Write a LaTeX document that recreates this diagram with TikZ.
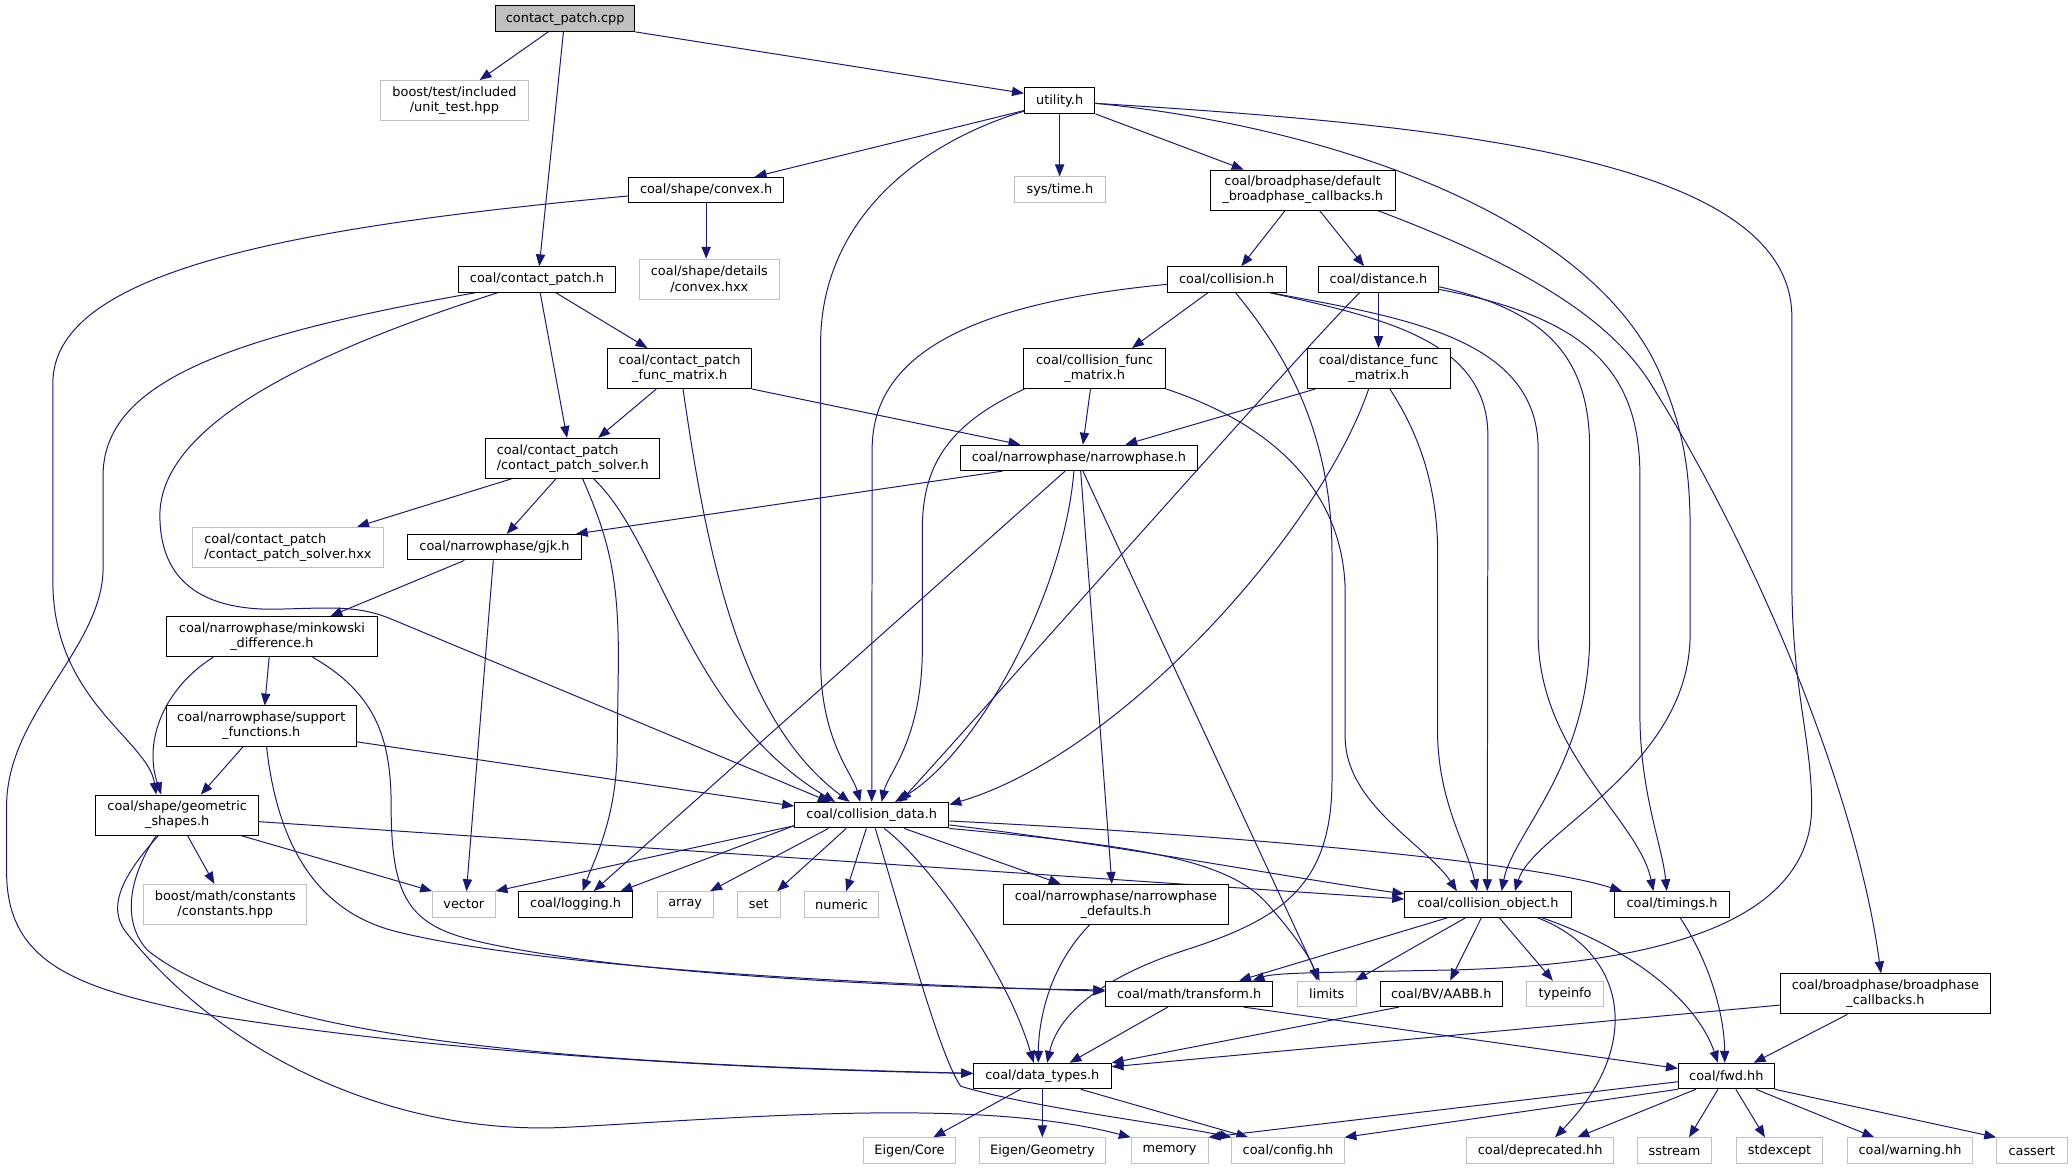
\documentclass[tikz,border=0pt]{standalone}
\usepackage{fontspec}
\setmainfont{DejaVu Sans}
\usetikzlibrary{arrows.meta}
\definecolor{edgec}{HTML}{191970}
\definecolor{graybd}{HTML}{BFBFBF}
\newcommand{\dxfont}{\fontsize{9.75}{11.4}\selectfont}
\pgfdeclarelayer{back}
\pgfdeclarelayer{bg}
\pgfsetlayers{back,bg,main}
\tikzset{
  nd/.style={draw=black, line width=0.75pt, fill=white, inner sep=0pt, font=\dxfont, align=center, minimum height=19.3pt, text=black},
  ndg/.style={nd, draw=graybd},
  tw/.style={minimum height=30.3pt},
  rootnd/.style={nd, fill=graybd},
  edge/.style={draw=edgec, line width=0.75pt, -{Triangle[length=9pt,width=7pt]}},
}
\begin{document}
\begin{tikzpicture}[x=1pt, y=-1pt]
\begin{pgfonlayer}{back}
\fill[white] (0,0) rectangle (1568,884.7);
\end{pgfonlayer}
\useasboundingbox (0,0) rectangle (1568,884.7);
% nodes
\node[rootnd, minimum width=105.4pt] (cpp) at (427.7,14.1) {contact\_patch.cpp};
\node[ndg, tw, minimum width=111.5pt] (ut) at (343.9,76.1) {boost/test/included\\/unit\_test.hpp};
\node[nd, minimum width=53.4pt] (util) at (801.9,76.2) {utility.h};
\node[nd, minimum width=117.4pt] (convex) at (534.4,143.8) {coal/shape/convex.h};
\node[ndg, minimum width=68.6pt] (systime) at (802.1,143.5) {sys/time.h};
\node[nd, tw, minimum width=140.1pt] (dfb) at (985.8,143.8) {coal/broadphase/default\\\_broadphase\_callbacks.h};
\node[ndg, tw, minimum width=105.9pt] (cvx) at (536.8,211.3) {coal/shape/details\\/convex.hxx};
\node[nd, minimum width=118.3pt] (cph) at (406.4,211.5) {coal/contact\_patch.h};
\node[nd, minimum width=89.9pt] (coll) at (928.3,211.5) {coal/collision.h};
\node[nd, minimum width=90.8pt] (dist) at (1043.2,211.5) {coal/distance.h};
\node[nd, tw, minimum width=109pt] (cpfm) at (514.3,278.9) {coal/contact\_patch\\\_func\_matrix.h};
\node[nd, tw, minimum width=107.7pt] (cfm) at (828.4,278.9) {coal/collision\_func\\\_matrix.h};
\node[nd, tw, minimum width=108.3pt] (dfm) at (1043.3,278.9) {coal/distance\_func\\\_matrix.h};
\node[nd, tw, minimum width=131.7pt, align=left] (solver) at (433.4,346.9) {coal/contact\_patch\\/contact\_patch\_solver.h};
\node[nd, minimum width=179.7pt] (np) at (816.5,346.5) {coal/narrowphase/narrowphase.h};
\node[ndg, tw, minimum width=143.9pt, align=left] (solverx) at (217.9,414.1) {coal/contact\_patch\\/contact\_patch\_solver.hxx};
\node[nd, minimum width=131.4pt] (gjk) at (374.2,414.1) {coal/narrowphase/gjk.h};
\node[nd, tw, minimum width=159.5pt] (mink) at (205.8,481.8) {coal/narrowphase/minkowski\\\_difference.h};
\node[nd, tw, minimum width=143.9pt] (supp) at (197.7,549.4) {coal/narrowphase/support\\\_functions.h};
\node[nd, tw, minimum width=123pt] (geom) at (134.1,616.8) {coal/shape/geometric\\\_shapes.h};
\node[nd, minimum width=116.8pt] (cd) at (659.7,616.9) {coal/collision\_data.h};
\node[ndg, minimum width=47.3pt] (vector) at (351.0,684.4) {vector};
\node[nd, minimum width=86.1pt] (logging) at (435.6,684.4) {coal/logging.h};
\node[ndg, minimum width=42.4pt] (array) at (518.5,684.4) {array};
\node[ndg, minimum width=32.4pt] (setn) at (574.2,684.4) {set};
\node[ndg, minimum width=56.4pt] (numeric) at (636.9,684.4) {numeric};
\node[nd, tw, minimum width=170.3pt] (npdef) at (844.5,684.4) {coal/narrowphase/narrowphase\\\_defaults.h};
\node[nd, minimum width=126pt] (colobj) at (1126.0,684.4) {coal/collision\_object.h};
\node[nd, minimum width=87.2pt] (timings) at (1265.3,684.4) {coal/timings.h};
\node[ndg, tw, minimum width=123.3pt] (consts) at (170.5,684.4) {boost/math/constants\\/constants.hpp};
\node[nd, minimum width=126.4pt] (transform) at (899.9,752.1) {coal/math/transform.h};
\node[ndg, minimum width=44.7pt] (limits) at (1004.0,752.1) {limits};
\node[nd, minimum width=92.6pt] (aabb) at (1090.7,752.1) {coal/BV/AABB.h};
\node[ndg, minimum width=57.8pt] (typeinfo) at (1184.4,752.1) {typeinfo};
\node[nd, tw, minimum width=158.8pt] (bpc) at (1426.8,752.1) {coal/broadphase/broadphase\\\_callbacks.h};
\node[nd, minimum width=104.1pt] (dtypes) at (788.8,814.3) {coal/data\_types.h};
\node[nd, minimum width=72.6pt] (fwd) at (1306.4,814.3) {coal/fwd.hh};
\node[ndg, minimum width=69.3pt] (ecore) at (688.3,870.7) {Eigen/Core};
\node[ndg, minimum width=95.6pt] (egeo) at (788.9,870.7) {Eigen/Geometry};
\node[ndg, minimum width=58.1pt] (memory) at (885.1,870.7) {memory};
\node[ndg, minimum width=84.8pt] (config) at (974.7,870.7) {coal/config.hh};
\node[ndg, minimum width=111.2pt] (deprec) at (1165.5,870.7) {coal/deprecated.hh};
\node[ndg, minimum width=56.4pt] (sstream) at (1267.2,870.7) {sstream};
\node[ndg, minimum width=65.5pt] (stdexc) at (1346.7,870.7) {stdexcept};
\node[ndg, minimum width=94pt] (warning) at (1445.4,870.7) {coal/warning.hh};
\node[ndg, minimum width=53.3pt] (cassert) at (1537.6,870.7) {cassert};
% edges
\begin{pgfonlayer}{bg}
\draw[edge] ([xshift=-12.8pt]cpp.south) -- ([xshift=19.1pt]ut.north);
\draw[edge] ([xshift=-1.3pt]cpp.south) -- ([xshift=1.7pt]cph.north);
\draw[edge] (cpp.south east) -- ([yshift=5.6pt]util.west);
\draw[edge] ([yshift=-7.5pt]util.west) -- ([xshift=36.7pt]convex.north);
\draw[edge] (util.south) -- (util.south |- systime.north);
\draw[edge] (util.south east) -- ([xshift=-44.7pt]dfb.north);
\draw[edge] ([yshift=-8pt]util.west) .. controls (690,110) and (621,170) .. (621,260) -- (621,500) .. controls (621,560) and (645,585) .. ([xshift=-8.7pt]cd.north);
\draw[edge] ([yshift=-2pt]util.east) .. controls (1000,95) and (1200,160) .. (1255,280) .. controls (1272,320) and (1279,350) .. (1279,400) -- (1279,480) .. controls (1279,580) and (1160,630) .. ([xshift=20.4pt]colobj.north);
\draw[edge] ([yshift=-2pt]util.east) .. controls (1100,95) and (1356,120) .. (1356,240) -- (1356,440) .. controls (1356,520) and (1371,560) .. (1371,610) .. controls (1371,700) and (1250,730) .. (1100,734) .. controls (1000,736) and (965,736) .. ([xshift=48pt]transform.north);
\draw[edge] ([yshift=-4.5pt]convex.west) .. controls (220,172) and (40,205) .. (40,290) -- (40,440) .. controls (40,530) and (112,560) .. ([xshift=-15.9pt]geom.north);
\draw[edge] (convex.south) -- (convex.south |- cvx.north);
\draw[edge] ([xshift=-13.3pt]dfb.south) -- ([xshift=11.1pt]coll.north);
\draw[edge] ([xshift=12.8pt]dfb.south) -- ([xshift=-10.9pt]dist.north);
\draw[edge] ([xshift=56.7pt]dfb.south) .. controls (1150,200) and (1220,240) .. (1252,295) .. controls (1330,420) and (1405,600) .. ([xshift=-3.4pt]bpc.north);
\draw[edge] ([xshift=14.2pt]cph.south) -- ([xshift=-24.4pt]cpfm.north);
\draw[edge] ([xshift=2.4pt]cph.south) -- ([xshift=-4.3pt]solver.north);
\draw[edge] ([xshift=-29.7pt]cph.south) .. controls (240,265) and (121,320) .. (121,390) .. controls (121,445) and (160,462) .. (210,461) .. controls (250,460) and (270,458) .. (295,468) -- ([xshift=-31.7pt]cd.north);
\draw[edge] ([xshift=-46.6pt]cph.south) .. controls (170,255) and (78,290) .. (78,360) -- (78,430) .. controls (78,490) and (5,540) .. (5,610) -- (5,660) .. controls (5,730) and (60,748) .. (152,767) .. controls (350,800) and (600,810) .. ([yshift=2pt]dtypes.west);
\draw[edge] ([xshift=-17.7pt]cpfm.south) -- ([xshift=19.3pt]solver.north);
\draw[edge] (cpfm.south east) -- ([xshift=-44.3pt]np.north);
\draw[edge] ([xshift=2.6pt]cpfm.south) .. controls (535,420) and (560,545) .. ([xshift=-16.7pt]cd.north);
\draw[edge] ([xshift=-14.2pt]coll.south) -- ([xshift=28.3pt]cfm.north);
\draw[edge] ([yshift=-3.7pt]coll.west) .. controls (730,230) and (660,270) .. (660,340) -- (cd.north);
\draw[edge] ([xshift=33pt]coll.south) .. controls (1040,240) and (1126,255) .. (1126,330) -- ([xshift=-0.5pt]colobj.north);
\draw[edge] ([xshift=33pt]coll.south) .. controls (1060,240) and (1164,255) .. (1164,340) -- (1164,480) .. controls (1164,570) and (1240,620) .. ([xshift=-14.1pt]timings.north);
\draw[edge] ([xshift=6.7pt]coll.south) .. controls (975,270) and (1008,330) .. (1008,420) -- (1008,590) .. controls (1008,670) and (970,695) .. (900,718) .. controls (830,740) and (800,770) .. ([xshift=3.6pt]dtypes.north);
\draw[edge] (dist.south) -- (dist.south |- dfm.north);
\draw[edge] ([xshift=-14.3pt]dist.south) .. controls (985,265) and (760,520) .. ([xshift=21.3pt]cd.north);
\draw[edge] ([yshift=-5.5pt]dist.east) .. controls (1170,235) and (1203,270) .. (1203,340) -- (1203,480) .. controls (1203,580) and (1145,630) .. ([xshift=10.3pt]colobj.north);
\draw[edge] ([yshift=-7.5pt]dist.east) .. controls (1200,240) and (1241,280) .. (1241,360) -- (1241,540) .. controls (1241,600) and (1258,640) .. ([xshift=-4pt]timings.north);
\draw[edge] ([xshift=-3.2pt]cfm.south) -- ([xshift=3pt]np.north);
\draw[edge] ([xshift=1pt]cfm.south west) .. controls (720,320) and (698,350) .. (698,400) -- (698,490) .. controls (698,560) and (672,585) .. ([xshift=7.5pt]cd.north);
\draw[edge] (cfm.south east) .. controls (960,320) and (1018,370) .. (1018,450) -- (1018,560) .. controls (1020,610) and (1080,640) .. ([xshift=-23.5pt]colobj.north);
\draw[edge] ([xshift=-48.1pt]dfm.south) -- ([xshift=35.1pt]np.north);
\draw[edge] ([xshift=-7.6pt]dfm.south) .. controls (1000,400) and (850,570) .. ([yshift=-2pt]cd.north east);
\draw[edge] ([xshift=8.5pt]dfm.south) .. controls (1075,330) and (1088,370) .. (1088,420) -- (1088,560) .. controls (1090,610) and (1110,640) .. ([xshift=-8.3pt]colobj.north);
\draw[edge] ([xshift=-46.5pt]solver.south) -- ([xshift=52.4pt]solverx.north);
\draw[edge] ([xshift=-12.8pt]solver.south) -- ([xshift=9.3pt]gjk.north);
\draw[edge] ([xshift=7.5pt]solver.south) .. controls (462,410) and (468,440) .. (468,500) -- (467,570) .. controls (466,620) and (450,650) .. ([xshift=5.3pt]logging.north);
\draw[edge] ([xshift=15.9pt]solver.south) .. controls (500,410) and (520,540) .. ([xshift=-27.7pt]cd.north);
\draw[edge] ([xshift=-57.8pt]np.south) -- ([xshift=61.6pt]gjk.north);
\draw[edge] ([xshift=-10.5pt]np.south) -- ([xshift=13.7pt]logging.north);
\draw[edge] ([xshift=-3.8pt]np.south) .. controls (805,450) and (740,570) .. ([xshift=17.6pt]cd.north);
\draw[edge] ([xshift=1.3pt]np.south) -- ([xshift=-3.1pt]npdef.north);
\draw[edge] ([xshift=3pt]np.south) -- ([xshift=-5.4pt]limits.north);
\draw[edge] ([xshift=-22.8pt]gjk.south) -- ([xshift=44.2pt]mink.north);
\draw[edge] ([xshift=-0.9pt]gjk.south) -- ([xshift=2pt]vector.north);
\draw[edge] ([xshift=-2.1pt]mink.south) -- ([xshift=2.6pt]supp.north);
\draw[edge] ([xshift=-44.3pt]mink.south) .. controls (125,520) and (108,560) .. ([xshift=-12.1pt]geom.north);
\draw[edge] ([xshift=30.7pt]mink.south) .. controls (285,525) and (296,560) .. (296,610) .. controls (296,680) and (310,700) .. (360,712) .. controls (470,738) and (700,748) .. ([yshift=3pt]transform.west);
\draw[edge] ([xshift=-13.6pt]supp.south) -- ([xshift=17.9pt]geom.north);
\draw[edge] ([yshift=-12pt]supp.east) -- ([yshift=6.9pt]cd.west);
\draw[edge] ([xshift=4pt]supp.south) .. controls (210,640) and (240,690) .. (300,705) .. controls (420,735) and (700,746) .. ([yshift=2pt]transform.west);
\draw[edge] ([xshift=7.8pt]geom.south) -- ([xshift=-8.3pt]consts.north);
\draw[edge] ([xshift=48.3pt]geom.south) -- (vector.north west);
\draw[edge] ([yshift=-5pt]geom.east) -- ([yshift=4pt]colobj.west);
\draw[edge] ([xshift=-14.2pt]geom.south) .. controls (95,660) and (80,685) .. (95,705) .. controls (170,800) and (300,860) .. (430,853) .. controls (560,846) and (740,830) .. (memory.north west);
\draw[edge] ([xshift=-15.9pt]geom.south) .. controls (100,660) and (90,695) .. (111.5,719) .. controls (200,790) and (450,805) .. ([yshift=2pt]dtypes.west);
\draw[edge] ([yshift=-8pt]cd.west) -- (vector.north east);
\draw[edge] ([yshift=-8pt]cd.west) -- ([xshift=34pt]logging.north);
\draw[edge] ([xshift=-32.8pt]cd.south) -- ([xshift=18.9pt]array.north);
\draw[edge] ([xshift=-19.3pt]cd.south) -- ([xshift=13.9pt]setn.north);
\draw[edge] ([xshift=-4.1pt]cd.south) -- ([xshift=3.5pt]numeric.north);
\draw[edge] ([xshift=24.6pt]cd.south) -- ([xshift=-41.9pt]npdef.north);
\draw[edge] ([yshift=-4.4pt]cd.east) .. controls (900,630) and (1150,650) .. ([xshift=-37.8pt]timings.north);
\draw[edge] ([yshift=-7.4pt]cd.east) .. controls (850,640) and (980,665) .. ([yshift=8pt]colobj.west);
\draw[edge] (cd.south east) .. controls (860,640) and (930,650) .. (960,685) .. controls (980,708) and (992,725) .. ([xshift=-7.2pt]limits.north);
\draw[edge] ([xshift=9.4pt]cd.south) .. controls (700,650) and (760,730) .. ([xshift=-6.5pt]dtypes.north);
\draw[edge] ([xshift=2.7pt]cd.south) .. controls (690,720) and (712,800) .. (727,822) .. controls (780,838) and (880,850) .. (config.north west);
\draw[edge] ([xshift=-19.9pt]npdef.south) .. controls (795,730) and (786,770) .. ([xshift=-3.1pt]dtypes.north);
\draw[edge] ([xshift=-30.3pt]colobj.south) -- ([xshift=37.8pt]transform.north);
\draw[edge] ([xshift=-16.8pt]colobj.south) -- ([xshift=21.6pt]limits.north);
\draw[edge] ([xshift=-4.9pt]colobj.south) -- ([xshift=6.7pt]aabb.north);
\draw[edge] ([xshift=8.5pt]colobj.south) -- ([xshift=-9.3pt]typeinfo.north);
\draw[edge] ([xshift=37.3pt]colobj.south) .. controls (1230,720) and (1245,790) .. ([xshift=11.3pt]deprec.north);
\draw[edge] ([xshift=40.7pt]colobj.south) .. controls (1240,720) and (1285,760) .. ([xshift=-6.3pt]fwd.north);
\draw[edge] ([xshift=6.1pt]timings.south) .. controls (1295,730) and (1305,770) .. ([xshift=-1.2pt]fwd.north);
\draw[edge] ([xshift=-16.2pt]transform.south) -- ([xshift=20.6pt]dtypes.north);
\draw[edge] ([xshift=41.2pt]transform.south) -- ([yshift=5.8pt]fwd.west);
\draw[edge] ([xshift=-32.1pt]aabb.south) -- (dtypes.north east);
\draw[edge] ([yshift=-8.5pt]bpc.west) -- ([yshift=-3pt]dtypes.north east);
\draw[edge] ([xshift=-28.7pt]bpc.south) -- ([xshift=20.7pt]fwd.north);
\draw[edge] ([xshift=-16.6pt]dtypes.south) -- ([xshift=18pt]ecore.north);
\draw[edge] (dtypes.south) -- (dtypes.south |- egeo.north);
\draw[edge] ([xshift=29pt]dtypes.south) -- ([xshift=-30.2pt]config.north);
\draw[edge] ([yshift=-4.3pt]fwd.west) -- (memory.north east);
\draw[edge] (fwd.south west) -- (config.north east);
\draw[edge] ([xshift=-23.1pt]fwd.south) -- ([xshift=28.2pt]deprec.north);
\draw[edge] ([xshift=-6.3pt]fwd.south) -- ([xshift=11pt]sstream.north);
\draw[edge] ([xshift=7.2pt]fwd.south) -- ([xshift=-11.1pt]stdexc.north);
\draw[edge] ([xshift=22.4pt]fwd.south) -- ([xshift=-27.1pt]warning.north);
\draw[edge] (fwd.south east) -- (cassert.north west);
\end{pgfonlayer}
\end{tikzpicture}
\end{document}
